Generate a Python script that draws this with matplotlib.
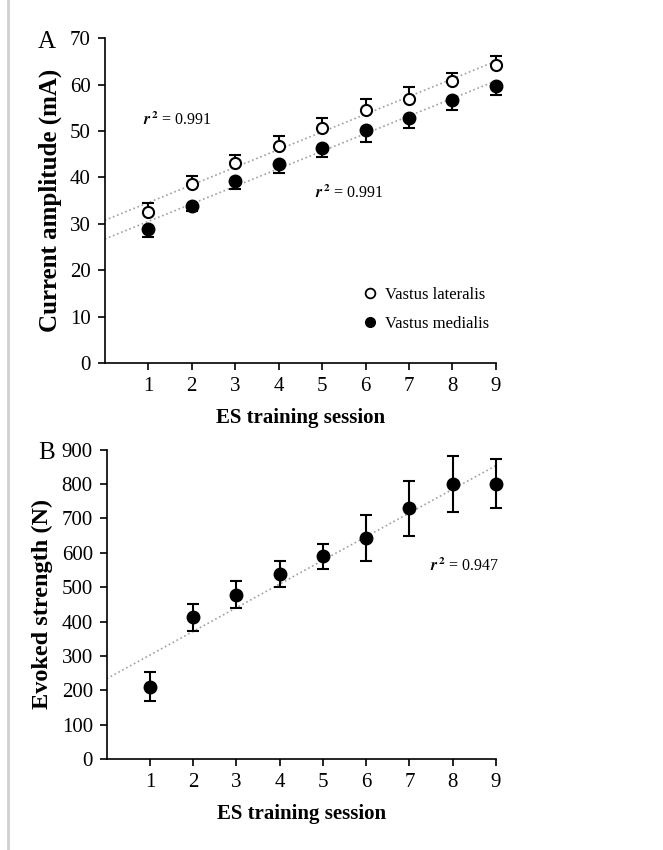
import matplotlib.pyplot as plt
import numpy as np
from matplotlib.lines import Line2D

plt.rcParams['font.family'] = ['Liberation Serif', 'DejaVu Serif']
plt.rcParams['mathtext.fontset'] = 'stix'

# ES training sessions
sessions = np.arange(1, 10)

# Panel A: current amplitude (mA)
lateralis = [32.6, 38.6, 43.0, 46.8, 50.7, 54.6, 57.0, 60.8, 64.2]
lateralis_err = [1.9, 1.6, 1.8, 2.1, 2.0, 2.2, 2.4, 1.8, 2.0]
medialis = [28.8, 33.8, 39.3, 42.9, 46.4, 50.3, 52.9, 56.7, 59.8]
medialis_err = [1.6, 1.0, 1.9, 2.0, 2.0, 2.6, 2.3, 2.2, 2.0]

# Panel B: evoked strength (N)
strength = [211, 412, 478, 538, 590, 643, 730, 800, 801]
strength_err = [42, 40, 39, 38, 37, 68, 80, 82, 72]

r2_a = '0.991'
r2_b = '0.947'
R2 = r'$\boldsymbol{r}^{\,\mathbf{2}}$ = '


def style_axes(ax, ymax, ystep, ylabel, ylabel_size):
    ax.set_xlim(0, 9)
    ax.set_ylim(0, ymax)
    ax.set_xticks(sessions)
    ax.set_yticks(np.arange(0, ymax + 1, ystep))
    ax.spines['top'].set_visible(False)
    ax.spines['right'].set_visible(False)
    ax.spines['left'].set_linewidth(1.2)
    ax.spines['bottom'].set_linewidth(1.2)
    ax.tick_params(direction='out', length=5, width=1.2, labelsize=15, pad=5)
    ax.set_ylabel(ylabel, fontsize=ylabel_size, fontweight='bold', labelpad=6)
    ax.set_xlabel('ES training session', fontsize=15, fontweight='bold', labelpad=9)


def fit_line(ax, x, y):
    slope, intercept = np.polyfit(x, y, 1)
    xs = np.array([0, 9])
    ax.plot(xs, slope * xs + intercept, color='#a0a0a0', linestyle=':', linewidth=1.2, zorder=1)


def no_clip(container):
    for art in container.get_children():
        art.set_clip_on(False)


fig = plt.figure(figsize=(6.63, 8.5), dpi=100)

# scan border
fig.add_artist(Line2D([0.012, 0.012], [0, 1], color='#d0d0d0', linewidth=2))

# ---- Panel A ----
ax1 = fig.add_axes([0.158, 0.573, 0.590, 0.382])
fit_line(ax1, sessions, lateralis)
fit_line(ax1, sessions, medialis)
eb = ax1.errorbar(sessions, lateralis, yerr=[np.zeros(9), lateralis_err], fmt='o', mfc='white',
                  mec='black', ecolor='black', ms=8, mew=1.5, capsize=4, elinewidth=1.5,
                  capthick=1.5, zorder=3)
no_clip(eb)
eb = ax1.errorbar(sessions, medialis, yerr=[medialis_err, np.zeros(9)], fmt='o', mfc='black',
                  mec='black', ecolor='black', ms=9, capsize=4, elinewidth=1.5, capthick=1.5,
                  zorder=3)
no_clip(eb)
style_axes(ax1, 70, 10, 'Current amplitude (mA)', 18)
ax1.text(0.88, 52.4, R2 + r2_a, fontsize=11.5, va='center', ha='left')
ax1.text(4.84, 36.6, R2 + r2_a, fontsize=11.5, va='center', ha='left')
h1 = Line2D([], [], marker='o', linestyle='none', mfc='white', mec='black', ms=7, mew=1.3)
h2 = Line2D([], [], marker='o', linestyle='none', mfc='black', mec='black', ms=7)
ax1.legend([h1, h2], ['Vastus lateralis', 'Vastus medialis'], loc='lower right',
           bbox_to_anchor=(1.0, 0.075), borderaxespad=0, frameon=False, fontsize=12,
           handlelength=1.0, handletextpad=0.4, labelspacing=0.8)
fig.text(0.071, 0.950, 'A', fontsize=18, ha='center', va='center')

# ---- Panel B ----
ax2 = fig.add_axes([0.161, 0.107, 0.587, 0.364])
fit_line(ax2, sessions, strength)
eb = ax2.errorbar(sessions, strength, yerr=strength_err, fmt='o', mfc='black', mec='black',
                  ecolor='black', ms=9, capsize=4, elinewidth=1.5, capthick=1.5, zorder=3)
no_clip(eb)
style_axes(ax2, 900, 100, 'Evoked strength (N)', 17.5)
ax2.text(7.48, 560, R2 + r2_b, fontsize=11.5, va='center', ha='left')
fig.text(0.071, 0.467, 'B', fontsize=18, ha='center', va='center')

plt.savefig('out.png', dpi=100)
